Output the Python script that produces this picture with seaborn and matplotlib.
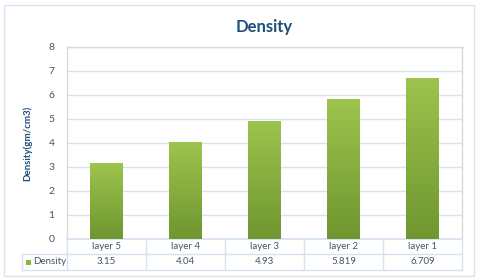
import matplotlib
matplotlib.use("Agg")
import matplotlib.pyplot as plt
import matplotlib.transforms as mtransforms
from matplotlib.patches import Rectangle
from matplotlib.lines import Line2D
import numpy as np
import pandas as pd
import seaborn as sns

# data
categories = ["layer 5", "layer 4", "layer 3", "layer 2", "layer 1"]
density = [3.15, 4.04, 4.93, 5.819, 6.709]
series_name = "Density"
y_ticks = [0, 1, 2, 3, 4, 5, 6, 7, 8]

TEXT = "#44546a"
TITLE = "#1f4e79"
GRID = "#d6e2f0"
GREEN_TOP = "#9dc44c"
GREEN_BOT = "#6f9630"

sns.set_theme(style="white")
plt.rcParams["font.family"] = ["Lato", "DejaVu Sans"]

fig = plt.figure(figsize=(4.8, 2.8), dpi=100)
ax = fig.add_axes([67 / 480, 1 - 239 / 280, 395 / 480, 192 / 280])

df = pd.DataFrame({"layer": categories, "density": density})
sns.barplot(data=df, x="layer", y="density", order=categories,
            color=GREEN_TOP, width=0.41, ax=ax, zorder=3)

# vertical gradient on each bar
grad = np.linspace(0, 1, 256).reshape(-1, 1)
cmap = matplotlib.colors.LinearSegmentedColormap.from_list("g", [GREEN_BOT, GREEN_TOP])
for bar in ax.patches:
    x0, w, h = bar.get_x(), bar.get_width(), bar.get_height()
    im = ax.imshow(grad, extent=[x0, x0 + w, 0, h], origin="lower", cmap=cmap,
                   aspect="auto", zorder=4)
    im.set_clip_path(bar)
    bar.set_edgecolor("none")

ax.set_xlim(-0.5, len(categories) - 0.5)
ax.set_ylim(0, 8)
ax.set_yticks(y_ticks)
ax.set_yticklabels([str(t) for t in y_ticks], fontsize=7.5, color=TEXT)
ax.tick_params(axis="y", length=0, pad=9)
ax.set_xticks([])
ax.set_xlabel("")
ax.set_ylabel("Density(gm/cm3)", fontsize=7, fontweight="bold", color=TITLE, labelpad=12)
ax.grid(axis="y", color=GRID, linewidth=1, zorder=0)
for side in ["left", "top", "right"]:
    ax.spines[side].set_color("#d9d9d9")
    ax.spines[side].set_linewidth(1)
ax.spines["bottom"].set_color(GRID)

ax.set_title("Density", fontsize=12, fontweight="bold", color=TITLE, pad=11)

# data table beneath the axis
trans = mtransforms.blended_transform_factory(ax.transData, ax.transAxes)
r1 = -15 / 192
r2 = -31 / 192
for i, (cat, val) in enumerate(zip(categories, density)):
    ax.text(i, r1 / 2, cat, transform=trans, ha="center", va="center",
            fontsize=7, color=TEXT, clip_on=False)
    ax.text(i, (r1 + r2) / 2, f"{val:g}", transform=trans, ha="center", va="center",
            fontsize=7, color=TEXT, clip_on=False)
for b in np.arange(-0.5, len(categories), 1.0):
    ax.add_line(Line2D([b, b], [0, r2], transform=trans, color=GRID, lw=1, clip_on=False))

left_fig = 22 / 480
right_fig = 462 / 480
y_r1 = 1 - 254 / 280
y_r2 = 1 - 270 / 280
for yy in [y_r1, y_r2]:
    fig.add_artist(Line2D([left_fig, right_fig], [yy, yy], color=GRID, lw=1))
fig.add_artist(Line2D([left_fig, left_fig], [y_r1, y_r2], color=GRID, lw=1))
fig.add_artist(Rectangle((26 / 480, 1 - 265 / 280), 5 / 480, 5 / 280,
                         facecolor="#8cb53e", edgecolor="none"))
fig.text(33 / 480, (y_r1 + y_r2) / 2, series_name, fontsize=7, color=TEXT,
         ha="left", va="center")

# outer chart border
fig.add_artist(Rectangle((4 / 480, 4 / 280), 470 / 480, 271 / 280, fill=False,
                         edgecolor="#dbe5f1", lw=1))

fig.savefig("out.png", dpi=100)
